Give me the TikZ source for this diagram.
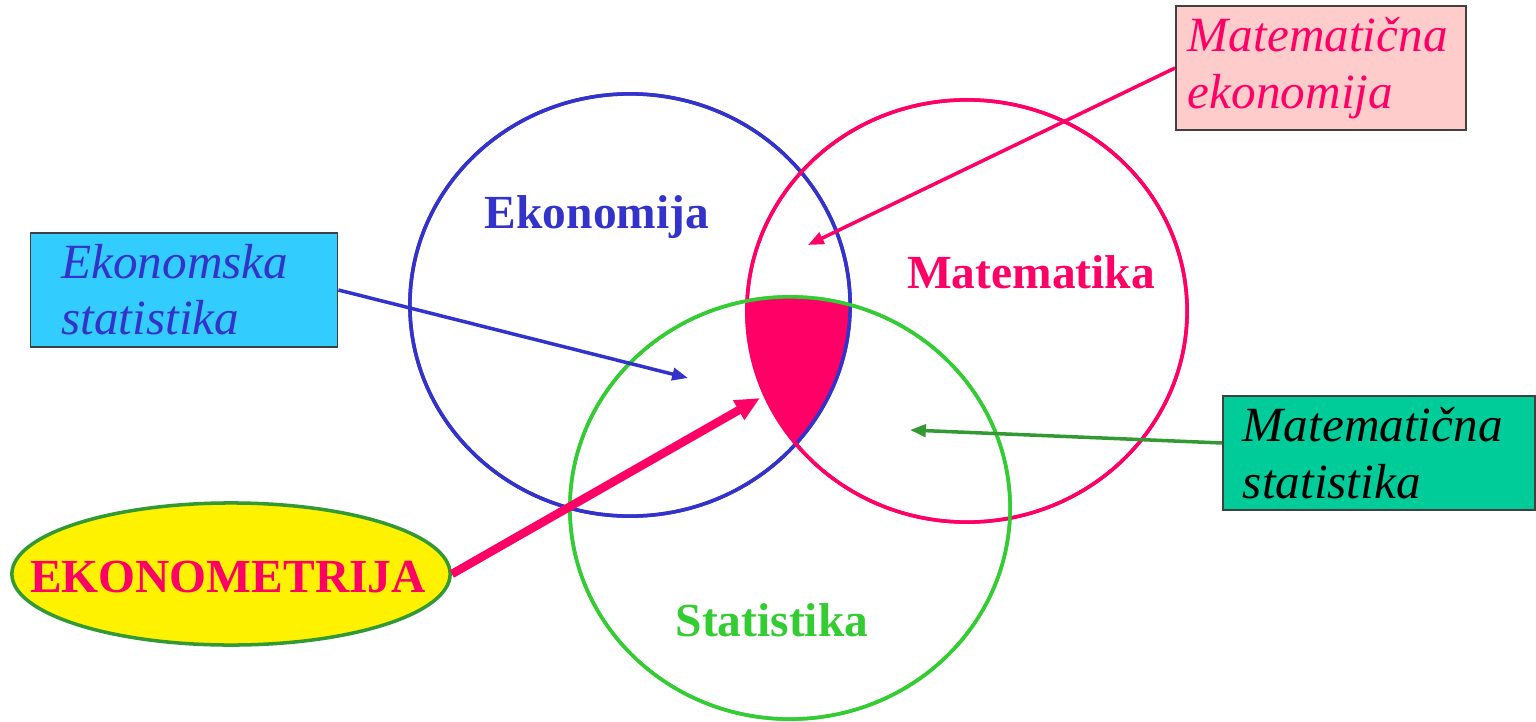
\documentclass[tikz,border=0pt]{standalone}
\usepackage{fontspec}
\setmainfont{Liberation Serif}
\usetikzlibrary{arrows.meta,shapes.geometric}

\definecolor{ekoblue}{RGB}{51,51,204}
\definecolor{matred}{RGB}{255,0,102}
\definecolor{statgreen}{RGB}{51,204,51}
\definecolor{arrgreen}{RGB}{51,153,51}
\definecolor{boxcyan}{RGB}{51,204,255}
\definecolor{boxpink}{RGB}{255,204,204}
\definecolor{boxteal}{RGB}{0,204,153}

\begin{document}
\begin{tikzpicture}[
  x=0.01cm, y=-0.01cm,
  ring/.style={draw=#1, line width=1pt, ellipse, minimum width=4.4cm, minimum height=4.22cm, inner sep=0pt},
  title/.style={font=\fontsize{13.5}{16}\selectfont\bfseries, text=#1},
  tag/.style={draw=black!75, line width=0.5pt, fill=#1, minimum height=1.1cm,
              align=left, inner xsep=0pt, font=\fontsize{14}{16}\selectfont\itshape},
  pointer/.style={-{Triangle[length=4.5pt,width=3.5pt]}, line width=1pt, draw=#1}
]
\useasboundingbox (0,0) rectangle (1536,721);

% ===== The three fields =====
\node[ring=ekoblue]   (eko)  at (630,305) {};
\node[ring=matred]    (mat)  at (967,311) {};
\node[ring=statgreen] (stat) at (790,508) {};

% common part of all three
\begin{scope}
  \clip (eko.center) ellipse [x radius=2.2cm, y radius=2.11cm];
  \clip (mat.center) ellipse [x radius=2.2cm, y radius=2.11cm];
  \fill[matred] (stat.center) ellipse [x radius=2.2cm, y radius=2.11cm];
\end{scope}
\node[ring=ekoblue]   at (eko.center)  {};
\node[ring=matred]    at (mat.center)  {};
\node[ring=statgreen] at (stat.center) {};

\node[title=ekoblue]   (ekolbl)  at (597,217) {Ekonomija};
\node[title=matred]    (matlbl)  at (1031,272) {Matematika};
\node[title=statgreen] (statlbl) at (772,620) {Statistika};

% ----- Labels round the diagram -----
\node[tag=boxcyan, minimum width=3.07cm, text width=2.45cm, text=ekoblue] (ekstat) at (184,290)
  {Ekonomska\\statistika};
\node[tag=boxpink, minimum width=2.9cm, text width=2.66cm, text=matred] (matek) at (1321,68)
  {Matematična\\ekonomija};
\node[tag=boxteal, minimum width=3.12cm, text width=2.72cm, text=black] (matstat) at (1379,453)
  {Matematična\\statistika};
\node[draw=arrgreen, line width=1pt, fill=yellow, ellipse, minimum width=4.38cm, minimum height=1.42cm,
      inner sep=0pt] (ekonom) at (231,574) {};
\node[title=matred] (ekonomlbl) at (228,577) {EKONOMETRIJA};

% ===== Pointers =====
\coordinate (ekstatEnd)  at (688,378);
\coordinate (matekEnd)   at (808,245);
\coordinate (matstatEnd) at (910,430);
\coordinate (ekonomEnd)  at (760,398);

\draw[pointer=ekoblue] (ekstat.east) -- (ekstatEnd);
\draw[pointer=matred] (matek.west) -- (matekEnd);
\draw[pointer=arrgreen] ([yshift=0.1cm]matstat.west) -- (matstatEnd);
\draw[matred, line width=2.4pt, -{Triangle[length=7pt,width=6pt]}] (ekonom.east) -- (ekonomEnd);
\end{tikzpicture}
\end{document}
